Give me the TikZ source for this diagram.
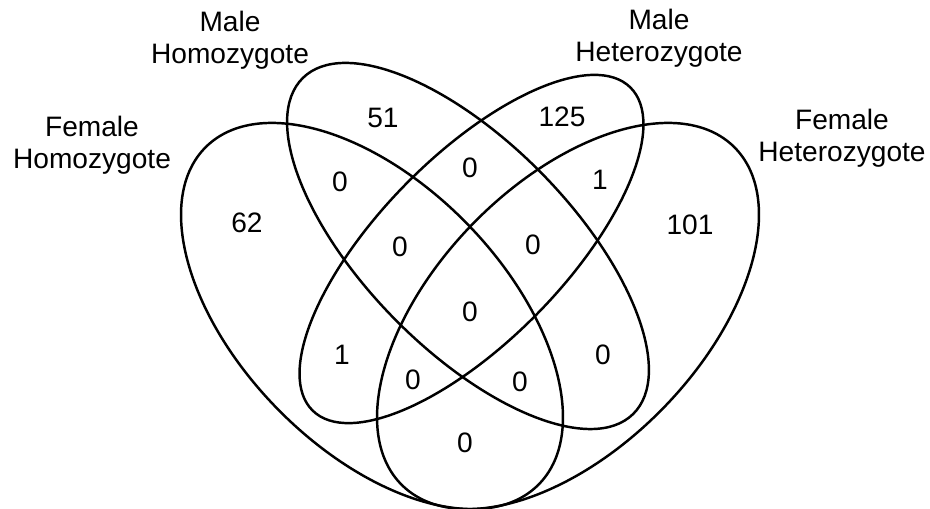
\documentclass[tikz,border=0pt]{standalone}
\usepackage{fontspec}
\setmainfont{Liberation Sans}
\begin{document}
\begin{tikzpicture}[x=0.02cm,y=-0.02cm,line width=1.4pt,
  rotulo/.style={align=center,font=\fontsize{16}{18}\selectfont},
  numero/.style={font=\fontsize{16}{18}\selectfont}]
\useasboundingbox (0,0) rectangle (930,509);
% female homozygote
\coordinate (cFHo) at (372,316);
\draw[rotate around={-45.6:(cFHo)}] (cFHo) ellipse [x radius=237, y radius=132.5];
% male homozygote
\coordinate (cMHo) at (468,246);
\draw[rotate around={-45.5:(cMHo)}] (cMHo) ellipse [x radius=235.6, y radius=103.5];
% male heterozygote
\coordinate (cMHe) at (471.5,249);
\draw[rotate around={45.5:(cMHe)}] (cMHe) ellipse [x radius=226.6, y radius=92.3];
% female heterozygote
\coordinate (cFHe) at (568,316);
\draw[rotate around={45.6:(cFHe)}] (cFHe) ellipse [x radius=237, y radius=132.5];
% set names
\node[rotulo] (tFHo) at (92,145) {Female\\Homozygote};
\node[rotulo] (tMHo) at (230,40) {Male\\Homozygote};
\node[rotulo] (tMHe) at (659,38) {Male\\Heterozygote};
\node[rotulo] (tFHe) at (842,138) {Female\\Heterozygote};
% counts
\node[numero] (n62) at (247,223) {62};
\node[numero] (n51) at (383,118) {51};
\node[numero] (n125) at (562,117) {125};
\node[numero] (n101) at (690,225) {101};
\node[numero] (nA) at (340,182) {0};
\node[numero] (nB) at (470,168) {0};
\node[numero] (nC) at (600,180) {1};
\node[numero] (nD) at (400,247) {0};
\node[numero] (nE) at (533,245) {0};
\node[numero] (nF) at (470,312) {0};
\node[numero] (nG) at (342,355) {1};
\node[numero] (nH) at (413,380) {0};
\node[numero] (nI) at (520,382) {0};
\node[numero] (nJ) at (603,355) {0};
\node[numero] (nK) at (465,443) {0};
\end{tikzpicture}
\end{document}
